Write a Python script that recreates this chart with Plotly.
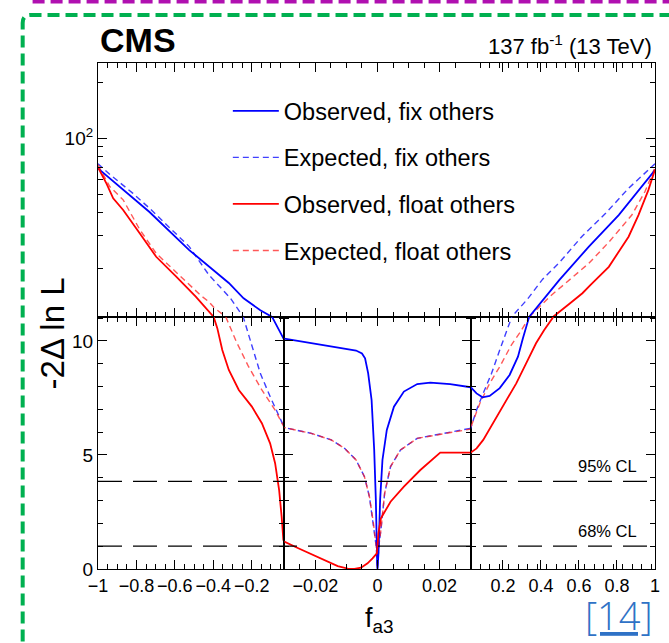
import numpy as np
import plotly.graph_objects as go
from plotly.subplots import make_subplots

# ---- likelihood scan of f_a3: -2 Delta ln L ----
OBS_FIX_X = [-1.0, -0.809, -0.732, -0.525, -0.448, -0.319, -0.242, -0.155, -0.0903, -0.044, -0.03,
             -0.0213, -0.0128, -0.0069, -0.0050, -0.0040, -0.0030, -0.0019, -0.00106, -0.00053, -0.0001, 0.0,
             0.00032, 0.00085, 0.0016, 0.0030, 0.0053, 0.0085, 0.0128, 0.0170, 0.0234, 0.03,
             0.061, 0.0926, 0.13, 0.183, 0.235, 0.279, 0.305, 0.326, 0.336, 0.496, 0.566, 0.652, 0.809, 0.913, 1.0]
OBS_FIX_Y = [69.0, 46.8, 40.3, 25.2, 21.7, 16.8, 13.9, 12.0, 11.0, 10.26, 10.1,
             9.9, 9.72, 9.58, 9.45, 9.24, 8.58, 7.41, 5.22, 3.03, 0.26, 0.0,
             0.70, 3.03, 4.78, 6.10, 7.12, 7.78, 8.11, 8.17, 8.11, 7.97,
             7.7, 7.53, 7.59, 7.93, 8.51, 9.31, 10.12, 10.78, 11.0, 17.4, 20.9, 26.3, 38.8, 52.8, 67.6]

EXP_FIX_X = [-1.0, -0.938, -0.818, -0.732, -0.525, -0.422, -0.31, -0.242, -0.199, -0.155, -0.104, -0.03,
             -0.0213, -0.0149, -0.0106, -0.0069, -0.0042, -0.0026, -0.0013, -0.0004, 0.0,
             0.0004, 0.0011, 0.0023, 0.0042, 0.0074, 0.0128, 0.0213, 0.03,
             0.061, 0.096, 0.14, 0.183, 0.218, 0.244, 0.33, 0.409, 0.5, 0.618, 0.739, 0.861, 0.95, 1.0]
EXP_FIX_Y = [73.0, 64.0, 50.7, 42.2, 26.3, 18.5, 13.9, 11.0, 9.8, 8.58, 7.56, 6.2,
             5.95, 5.66, 5.29, 4.78, 4.05, 3.17, 2.0, 0.98, 0.0,
             0.98, 1.71, 3.32, 4.49, 5.22, 5.73, 5.95, 6.2,
             6.97, 7.7, 8.58, 9.6, 10.41, 11.0, 13.8, 17.6, 21.8, 30.0, 39.5, 54.0, 66.0, 73.0]

OBS_FLOAT_X = [-1.0, -0.955, -0.921, -0.869, -0.783, -0.697, -0.594, -0.491, -0.396,
               -0.379, -0.353, -0.319, -0.267, -0.199, -0.147, -0.104, -0.078, -0.057, -0.044, -0.035, -0.03,
               -0.0255, -0.0213, -0.016, -0.0128, -0.0096, -0.0074, -0.0053, -0.0032, -0.0016, -0.0002,
               0.0003, 0.0011, 0.0042, 0.0085, 0.0138, 0.0202, 0.03,
               0.0613, 0.0962, 0.148, 0.2005, 0.270, 0.331, 0.374, 0.417, 0.461, 0.55, 0.618, 0.661,
               0.757, 0.861, 0.913, 0.965, 1.0]
OBS_FLOAT_Y = [70.0, 57.0, 47.7, 41.3, 31.0, 23.2, 18.2, 14.2, 11.0,
               10.56, 9.6, 8.73, 7.85, 7.12, 6.39, 5.51, 4.64, 3.46, 2.29, 1.27, 1.2,
               0.91, 0.66, 0.32, 0.13, 0.02, 0.0, 0.06, 0.25, 0.47, 0.69,
               1.56, 2.22, 2.95, 3.61, 4.34, 5.10, 5.10,
               5.29, 5.66, 6.39, 7.12, 8.14, 9.17, 9.9, 10.48, 11.0, 13.0, 14.8, 16.4,
               20.5, 29.7, 38.8, 52.8, 68.0]

EXP_FLOAT_X = [-1.0, -0.938, -0.869, -0.783, -0.697, -0.525, -0.465, -0.422, -0.396, -0.332,
               -0.28, -0.216, -0.147, -0.078, -0.035, -0.03,
               -0.0213, -0.0149, -0.0106, -0.0069, -0.0042, -0.0026, -0.0013, -0.0004, 0.0,
               0.0004, 0.0011, 0.0023, 0.0042, 0.0074, 0.0128, 0.0213, 0.03,
               0.0786, 0.13, 0.183, 0.244, 0.287, 0.336, 0.45, 0.55, 0.652, 0.76, 0.878, 0.948, 1.0]
EXP_FLOAT_Y = [72.0, 55.0, 46.8, 32.5, 24.2, 16.5, 14.4, 13.3, 12.4, 11.0,
               9.97, 8.87, 7.85, 6.97, 6.3, 6.2,
               5.95, 5.66, 5.29, 4.78, 4.05, 3.17, 2.0, 0.98, 0.0,
               0.98, 1.71, 3.32, 4.49, 5.22, 5.73, 5.95, 6.2,
               7.27, 8.14, 8.87, 9.82, 10.34, 11.0, 14.3, 17.5, 21.4, 28.0, 38.8, 52.0, 70.0]

SERIES_NAMES = ["Observed, fix others", "Expected, fix others",
                "Observed, float others", "Expected, float others"]

CL_LEVELS = [1.0, 3.84]
CL_LABELS = ["68% CL", "95% CL"]

# x axis is broken into three pieces: [-1,-0.03], [-0.03,0.03], [0.03,1]
X_RANGES = [[-1.0, -0.03], [-0.03, 0.03], [0.03, 1.0]]
X_TICKS = [[-1, -0.8, -0.6, -0.4, -0.2], [-0.02, 0, 0.02], [0.2, 0.4, 0.6, 0.8, 1]]
X_TICKTEXT = [["\u22121", "\u22120.8", "\u22120.6", "\u22120.4", "\u22120.2"],
              ["\u22120.02", "0", "0.02"],
              ["0.2", "0.4", "0.6", "0.8", "1"]]
X_MINOR_STEP = [0.05, 0.005, 0.05]

Y_LOW_TICKS = [0, 5, 10]
Y_LOW_TICKTEXT = ["0", "5", "10"]
Y_HIGH_TICKS = [100]
Y_HIGH_TICKTEXT = ["10<sup>2</sup>"]
Y_HIGH_MINOR = [20, 30, 40, 50, 60, 70, 80, 90, 200]

Y_LOW_RANGE = [0, 11.05]
Y_HIGH_RANGE = [np.log10(11.04), np.log10(253)]

FONT = "Arial, Liberation Sans, Helvetica, sans-serif"

styles = [
    dict(color="#0000ff", width=1.8, dash="solid", opacity=1.0),
    dict(color="#2b2bff", width=1.4, dash="6px,4px", opacity=0.9),
    dict(color="#ff0000", width=1.8, dash="solid", opacity=1.0),
    dict(color="#ff2020", width=1.4, dash="6px,4px", opacity=0.75),
]
data = [(OBS_FIX_X, OBS_FIX_Y), (EXP_FIX_X, EXP_FIX_Y),
        (OBS_FLOAT_X, OBS_FLOAT_Y), (EXP_FLOAT_X, EXP_FLOAT_Y)]

fig = make_subplots(rows=2, cols=3, row_heights=[254, 252], column_widths=[188, 188, 186],
                    horizontal_spacing=0, vertical_spacing=0)

draw_order = [1, 3, 0, 2]  # dashed curves underneath the solid ones
for r in (1, 2):
    for c in (1, 2, 3):
        for i in draw_order:
            xs, ys = data[i]
            st = styles[i]
            fig.add_trace(go.Scatter(
                x=xs, y=ys, mode="lines", name=SERIES_NAMES[i],
                legendgroup=SERIES_NAMES[i], legendrank=i + 1,
                showlegend=(r == 1 and c == 1),
                opacity=st["opacity"],
                line=dict(color=st["color"], width=st["width"], dash=st["dash"]),
                hoverinfo="skip"), row=r, col=c)

axis_common = dict(showline=True, linecolor="black", linewidth=1.1, showgrid=False, zeroline=False,
                   ticks="inside", tickcolor="black", tickwidth=1, ticklen=9,
                   tickfont=dict(family=FONT, size=18, color="black"))

for r in (1, 2):
    for c in (1, 2, 3):
        lo, hi = X_RANGES[c - 1]
        step = X_MINOR_STEP[c - 1]
        minor_vals = [round(v, 4) for v in np.arange(lo, hi + step / 2, step)]
        fig.update_xaxes(range=X_RANGES[c - 1], tickmode="array", tickvals=X_TICKS[c - 1],
                         ticktext=X_TICKTEXT[c - 1], showticklabels=(r == 2), mirror="ticks",
                         minor=dict(tickvals=minor_vals, ticks="inside", ticklen=5,
                                    tickcolor="black", tickwidth=1),
                         row=r, col=c, **axis_common)

# lower panel: linear
for c in (1, 2, 3):
    fig.update_yaxes(range=Y_LOW_RANGE, tickmode="array", tickvals=Y_LOW_TICKS,
                     ticktext=Y_LOW_TICKTEXT, showticklabels=(c == 1), mirror="ticks",
                     minor=dict(dtick=1, tick0=0, ticks="inside", ticklen=5,
                                tickcolor="black", tickwidth=1),
                     row=2, col=c, **axis_common)
    fig.update_yaxes(tickfont=dict(family=FONT, size=19, color="black"), row=2, col=c)

# upper panel: logarithmic, frame on the outer sides only
for c in (1, 2, 3):
    fig.update_yaxes(type="log", range=Y_HIGH_RANGE, tickmode="array", tickvals=Y_HIGH_TICKS,
                     ticktext=Y_HIGH_TICKTEXT, showticklabels=(c == 1),
                     minor=dict(tickvals=Y_HIGH_MINOR, ticks="inside", ticklen=5,
                                tickcolor="black", tickwidth=1),
                     row=1, col=c, **axis_common)
    fig.update_yaxes(tickfont=dict(family=FONT, size=19, color="black"), row=1, col=c)
fig.update_yaxes(visible=False, row=1, col=2)
fig.update_yaxes(side="right", row=1, col=3)

shapes = []
for lvl in CL_LEVELS:
    shapes.append(dict(type="line", xref="paper", yref="y4", x0=0, x1=1, y0=lvl, y1=lvl,
                       line=dict(color="black", width=1.3, dash="24px,11px")))

# framing lines around the figure
xl, yt, rx, ry = (22 - 98) / 562, (569 - 15) / 506, 8 / 562, 8 / 506
shapes.append(dict(type="path", xref="paper", yref="paper",
                   path=f"M {xl},-0.25 L {xl},{yt - ry} Q {xl},{yt} {xl + rx},{yt} L 1.05,{yt}",
                   line=dict(color="#00b050", width=4, dash="12px,6px")))
shapes.append(dict(type="line", xref="paper", yref="paper",
                   x0=(32 - 98) / 562, x1=1.05, y0=(569 - 1.5) / 506, y1=(569 - 1.5) / 506,
                   line=dict(color="#b010b0", width=4, dash="12px,6px")))

annotations = [
    dict(text="<b>CMS</b>", xref="paper", yref="paper", x=0.0, y=(569 - 40) / 506,
         xanchor="left", yanchor="middle", showarrow=False,
         font=dict(family=FONT, size=34, color="black")),
    dict(text="137 fb<sup>-1</sup> (13 TeV)", xref="paper", yref="paper",
         x=(659 - 98) / 562, y=(569 - 45) / 506, xanchor="right", yanchor="middle",
         showarrow=False, font=dict(family=FONT, size=22, color="black")),
    dict(text="-2\u0394 ln L", xref="paper", yref="paper", x=(52 - 98) / 562,
         y=(569 - 333) / 506, xanchor="center", yanchor="middle", textangle=-90,
         showarrow=False, font=dict(family=FONT, size=33, color="black")),
    dict(text="f<sub>a3</sub>", xref="paper", yref="paper", x=(382 - 98) / 562,
         y=(569 - 620) / 506, xanchor="center", yanchor="middle",
         showarrow=False, font=dict(family=FONT, size=27, color="black")),
    dict(text="<u>[14]</u>", xref="paper", yref="paper", x=(660 - 98) / 562,
         y=(569 - 615) / 506, xanchor="right", yanchor="middle",
         showarrow=False, font=dict(family="Open Sans, Lato, sans-serif", size=38,
                                    color="#2f72c6", weight=300)),
]
for lvl, lab in zip(CL_LEVELS, CL_LABELS):
    annotations.append(dict(text=lab, xref="x6", yref="y4", x=0.915, y=lvl,
                            xanchor="right", yanchor="bottom", yshift=4, showarrow=False,
                            font=dict(family=FONT, size=16.5, color="black")))

fig.update_layout(
    width=669, height=643,
    margin=dict(l=98, r=9, t=63, b=74),
    paper_bgcolor="white", plot_bgcolor="white",
    font=dict(family=FONT, color="black"),
    showlegend=True,
    legend=dict(x=(229 - 98) / 562, y=(569 - 89) / 506, xanchor="left", yanchor="top",
                bgcolor="rgba(0,0,0,0)", borderwidth=0,
                font=dict(family=FONT, size=23.5, color="black"),
                tracegroupgap=13, itemwidth=46, traceorder="grouped"),
    shapes=shapes,
    annotations=annotations,
)

fig.write_html("out.html")
